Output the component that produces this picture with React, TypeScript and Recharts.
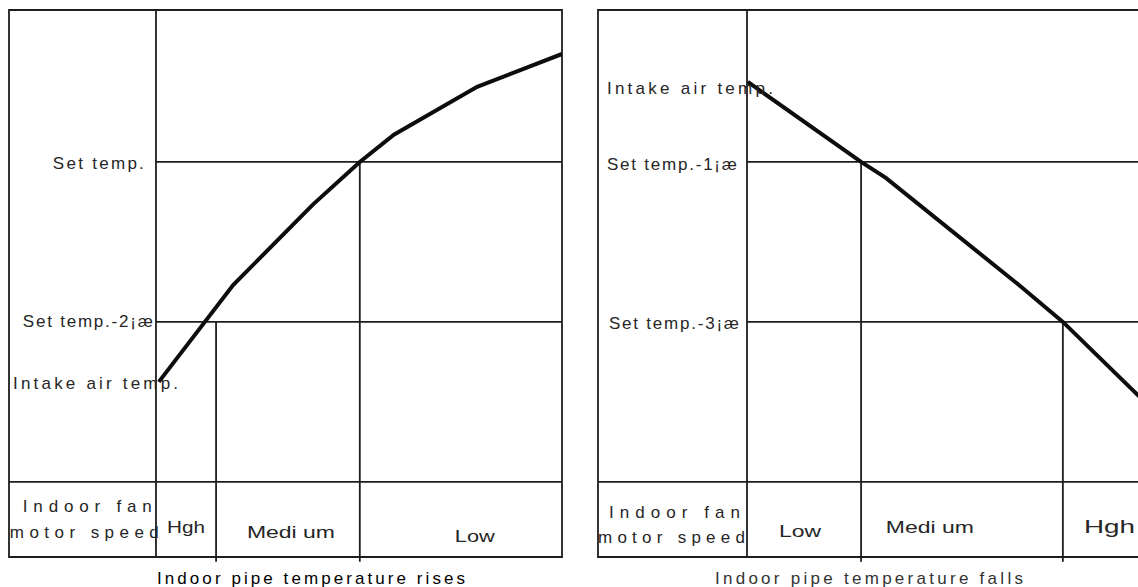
import { LineChart, Line, XAxis, YAxis, ReferenceLine, ReferenceArea, ReferenceDot } from 'recharts'

// x: share of the pipe-temperature run (0..100), t: temperature relative to set temp (°C)
const riseX = [0.7, 19, 38.7, 50.2, 58.6, 79.1, 100]
const riseT = [-2.75, -1.54, -0.53, 0, 0.34, 0.94, 1.35]
const riseSwitch = [14.8, 50.2]
const riseSwitchFrom = [-2, 0]
const riseSpeeds = ['Hgh', 'Medi um', 'Low']
const riseTempLabels = ['Set temp.', 'Set temp.-2¡æ', 'Intake air temp.']

const fallX = [0.2, 28.1, 34.2, 67.5, 77.8, 100]
const fallT = [1.0, 0, -0.2, -1.56, -2, -3.1]
const fallSwitch = [28.1, 77.8]
const fallSwitchFrom = [0, -2]
const fallSpeeds = ['Low', 'Medi um', 'Hgh']
const fallTempLabels = ['Intake air temp.', 'Set temp.-1¡æ', 'Set temp.-3¡æ']

const rowLabels = ['Indoor fan', 'motor speed']
const captions = ['Indoor pipe temperature rises', 'Indoor pipe temperature falls']
const setLines = [0, -2]

const Y_MIN = -4.94
const Y_MAX = 1.9
const TABLE_Y = -4
const INK = '#1e1e1e'
const FONT = '"Liberation Sans", Arial, sans-serif'

type Pos = { x: number; y: number; w: number; size?: number; squeeze?: boolean; fill?: string }
type Txt = Pos & { text: string }

function tag(t: Txt, key: string) {
  return (
    <ReferenceDot
      key={key}
      x={t.x}
      y={t.y}
      r={0}
      fill="none"
      stroke="none"
      ifOverflow="visible"
      label={(p: any) => {
        const vb = p.viewBox ?? p
        return (
          <text
            x={vb.x}
            y={vb.y}
            textLength={t.w}
            lengthAdjust={t.squeeze ? 'spacingAndGlyphs' : 'spacing'}
            fontFamily={FONT}
            fontSize={t.size ?? 17}
            fill={t.fill ?? '#262626'}
          >
            {t.text}
          </text>
        )
      }}
    />
  )
}

interface PanelProps {
  left: number
  width: number
  marginLeft: number
  marginRight: number
  xMin: number
  xs: number[]
  ts: number[]
  switchX: number[]
  switchFrom: number[]
  texts: Txt[]
}

function Panel(p: PanelProps) {
  const curve = p.xs.map((x, i) => ({ x, t: p.ts[i] }))
  return (
    <div style={{ position: 'absolute', left: p.left, top: 0 }}>
      <LineChart
        width={p.width}
        height={587}
        margin={{ top: 10, right: p.marginRight, bottom: 30, left: p.marginLeft }}
      >
        <XAxis hide type="number" dataKey="x" domain={[p.xMin, 100]} allowDataOverflow />
        <YAxis hide type="number" domain={[Y_MIN, Y_MAX]} allowDataOverflow />
        <ReferenceArea
          x1={p.xMin}
          x2={100}
          y1={Y_MIN}
          y2={Y_MAX}
          fill="none"
          fillOpacity={0}
          stroke={INK}
          strokeWidth={1.8}
          ifOverflow="visible"
        />
        <ReferenceLine x={0} stroke={INK} strokeWidth={1.8} />
        <ReferenceLine y={TABLE_Y} stroke={INK} strokeWidth={1.8} />
        {setLines.map((y) => (
          <ReferenceLine
            key={'s' + y}
            segment={[{ x: 0, y }, { x: 100, y }]}
            stroke={INK}
            strokeWidth={1.8}
          />
        ))}
        {p.switchX.map((x, i) => (
          <ReferenceLine
            key={'v' + i}
            segment={[{ x, y: p.switchFrom[i] }, { x, y: Y_MIN - 0.06 }]}
            stroke={INK}
            strokeWidth={1.8}
            ifOverflow="visible"
          />
        ))}
        <Line
          data={curve}
          dataKey="t"
          type="linear"
          stroke="#0d0d0d"
          strokeWidth={4}
          dot={false}
          activeDot={false}
          isAnimationActive={false}
        />
        {p.texts.map((t, i) => tag(t, 't' + i))}
      </LineChart>
    </div>
  )
}

const riseTempPos: Pos[] = [
  { x: -25.4, y: -0.09, w: 91 },
  { x: -32.8, y: -2.06, w: 130 },
  { x: -35.2, y: -2.84, w: 165 },
]
const riseRowPos: Pos[] = [
  { x: -32.8, y: -4.375, w: 129 },
  { x: -36.0, y: -4.7, w: 149 },
]
const riseSpeedPos: Pos[] = [
  { x: 2.7, y: -4.64, w: 38, squeeze: true },
  { x: 22.4, y: -4.7, w: 88, squeeze: true },
  { x: 73.6, y: -4.75, w: 40, squeeze: true },
]
const riseCaptionPos: Pos = { x: 0.25, y: -5.275, w: 308, fill: '#000' }

const fallTempPos: Pos[] = [
  { x: -34.5, y: 0.85, w: 166 },
  { x: -34.5, y: -0.1, w: 130 },
  { x: -34.0, y: -2.09, w: 130 },
]
const fallRowPos: Pos[] = [
  { x: -34.0, y: -4.45, w: 131 },
  { x: -36.7, y: -4.76, w: 147 },
]
const fallSpeedPos: Pos[] = [
  { x: 7.9, y: -4.69, w: 42, squeeze: true },
  { x: 34.2, y: -4.64, w: 88, squeeze: true },
  { x: 83.0, y: -4.64, w: 51, size: 18, squeeze: true },
]
const fallCaptionPos: Pos = { x: -7.9, y: -5.275, w: 308, fill: '#333' }

function texts(temps: string[], tempPos: Pos[], rowPos: Pos[], speeds: string[], speedPos: Pos[], caption: string, capPos: Pos): Txt[] {
  return [
    ...temps.map((text, i) => ({ ...tempPos[i], text })),
    ...rowLabels.map((text, i) => ({ ...rowPos[i], text })),
    ...speeds.map((text, i) => ({ ...speedPos[i], text })),
    { ...capPos, text: caption },
  ]
}

export default function App() {
  return (
    <div
      style={{
        position: 'fixed',
        left: 0,
        top: 0,
        width: 1138,
        height: 587,
        overflow: 'hidden',
        background: '#fff',
      }}
    >
      <Panel
        left={0}
        width={600}
        marginLeft={9}
        marginRight={38}
        xMin={-36.2}
        xs={riseX}
        ts={riseT}
        switchX={riseSwitch}
        switchFrom={riseSwitchFrom}
        texts={texts(riseTempLabels, riseTempPos, riseRowPos, riseSpeeds, riseSpeedPos, captions[0], riseCaptionPos)}
      />
      <Panel
        left={590}
        width={610}
        marginLeft={8}
        marginRight={47}
        xMin={-36.7}
        xs={fallX}
        ts={fallT}
        switchX={fallSwitch}
        switchFrom={fallSwitchFrom}
        texts={texts(fallTempLabels, fallTempPos, fallRowPos, fallSpeeds, fallSpeedPos, captions[1], fallCaptionPos)}
      />
    </div>
  )
}
